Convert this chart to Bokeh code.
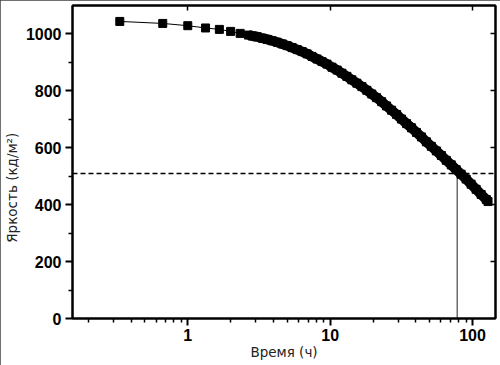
from bokeh.plotting import figure
from bokeh.models import FixedTicker, LinearAxis, LogAxis, Span, BasicTickFormatter
from bokeh.embed import file_html
from bokeh.resources import INLINE

# ---- data ----
time_h = [0.333, 0.667, 1.0, 1.333, 1.667, 2.0, 2.333, 2.667,
          2.84, 3.08, 3.34, 3.62, 3.92, 4.25, 4.61, 4.99, 5.41, 5.87,
          6.36, 6.89, 7.46, 8.09, 8.77, 9.50, 10.3, 11.2, 12.1, 13.1,
          14.2, 15.4, 16.7, 18.1, 19.6, 21.2, 23.0, 24.9, 27.0, 29.3,
          31.7, 34.4, 37.3, 40.4, 43.8, 47.4, 51.4, 55.7, 60.4, 65.4,
          70.9, 76.8, 83.2, 90.2, 97.8, 106, 115, 125, 128.5]
brightness = [1044, 1037, 1029, 1021, 1016, 1009, 1002, 996,
              993, 990, 985, 981, 976, 971, 965, 959, 952, 945,
              938, 930, 921, 912, 903, 894, 883, 873, 862, 851,
              839, 827, 815, 802, 789, 776, 762, 747, 732, 717,
              701, 685, 670, 654, 638, 621, 605, 589, 573, 556,
              540, 523, 507, 490, 472, 454, 436, 418, 411]

x_major_ticks = [1, 10, 100]
x_minor_ticks = [0.2, 0.3, 0.4, 0.5, 0.6, 0.7, 0.8, 0.9,
                 2, 3, 4, 5, 6, 7, 8, 9,
                 20, 30, 40, 50, 60, 70, 80, 90]
y_major_ticks = [0, 200, 400, 600, 800, 1000]
y_minor_ticks = [100, 300, 500, 700, 900]
right_ticks = [200, 400, 600, 800, 1000]

half_level = 510      # dashed level
half_time = 78        # vertical marker (hours)
dense_start = 7       # index where the markers merge into a band

x_label = "Время (ч)"
y_label = "Яркость (кд/м²)"
# trailing no-break spaces push the centred label down, as in the reference
y_label_padded = y_label + "\u00a0" * 12

TICK_FONT = "Liberation Sans"
LABEL_FONT = "DejaVu Sans"

p = figure(width=500, height=365, x_axis_type="log",
           x_range=(0.155, 145), y_range=(0, 1100),
           output_backend="svg", toolbar_location=None,
           min_border_left=69, min_border_right=5,
           min_border_top=5, min_border_bottom=47)
p.grid.visible = False
p.outline_line_color = "black"
p.outline_line_width = 2
p.background_fill_color = "white"
p.border_fill_color = "white"
p.styles = {"outline": "2px solid #404040", "outline-offset": "-2px"}

# bottom axis
xa = p.xaxis[0]
xa.ticker = FixedTicker(ticks=x_major_ticks, minor_ticks=x_minor_ticks)
xa.formatter = BasicTickFormatter()
xa.axis_line_width = 2
xa.major_tick_line_width = 2
xa.minor_tick_line_width = 1.5
xa.major_tick_in = 0
xa.major_tick_out = 7
xa.minor_tick_in = 0
xa.minor_tick_out = 4
xa.major_label_text_font = TICK_FONT
xa.major_label_text_font_style = "bold"
xa.major_label_text_font_size = "16px"
xa.major_label_text_color = "black"
xa.major_label_standoff = 3
xa.axis_label = x_label
xa.axis_label_text_font = LABEL_FONT
xa.axis_label_text_font_style = "normal"
xa.axis_label_text_font_size = "13.5px"
xa.axis_label_text_color = "#222222"
xa.axis_label_standoff = 0

# left axis
ya = p.yaxis[0]
ya.ticker = FixedTicker(ticks=y_major_ticks, minor_ticks=y_minor_ticks)
ya.axis_line_width = 2
ya.major_tick_line_width = 2
ya.minor_tick_line_width = 1.5
ya.major_tick_in = 0
ya.major_tick_out = 7
ya.minor_tick_in = 0
ya.minor_tick_out = 4
ya.major_label_text_font = TICK_FONT
ya.major_label_text_font_style = "bold"
ya.major_label_text_font_size = "16px"
ya.major_label_text_color = "black"
ya.major_label_standoff = 4
ya.axis_label = y_label_padded
ya.axis_label_text_font = LABEL_FONT
ya.axis_label_text_font_style = "normal"
ya.axis_label_text_font_size = "13.5px"
ya.axis_label_text_color = "#222222"
ya.axis_label_standoff = 3

# top and right axes (ticks only, labels invisible)
top = LogAxis(ticker=FixedTicker(ticks=x_major_ticks, minor_ticks=[]),
              formatter=BasicTickFormatter(),
              axis_line_width=2, major_tick_line_width=1.5,
              major_tick_in=5, major_tick_out=0,
              minor_tick_in=0, minor_tick_out=0,
              major_label_text_font_size="1px", major_label_text_alpha=0,
              major_label_standoff=0)
p.add_layout(top, "above")
right = LinearAxis(ticker=FixedTicker(ticks=right_ticks, minor_ticks=[]),
                   axis_line_width=2, major_tick_line_width=1.5,
                   major_tick_in=5, major_tick_out=0,
                   minor_tick_in=0, minor_tick_out=0,
                   major_label_text_font_size="1px", major_label_text_alpha=0,
                   major_label_standoff=0)
p.add_layout(right, "right")

# reference lines
p.add_layout(Span(location=half_level, dimension="width", line_color="black",
                  line_width=1.5, line_dash="5 3"))
p.segment(x0=[half_time], y0=[0], x1=[half_time], y1=[half_level],
          line_color="#222222", line_width=1)

# data
p.line(time_h[dense_start:], brightness[dense_start:], line_color="black", line_width=10)
p.line(time_h, brightness, line_color="black", line_width=1)
p.scatter(time_h, brightness, marker="square", size=8, color="black")

open("out.html", "w").write(file_html(p, INLINE))
